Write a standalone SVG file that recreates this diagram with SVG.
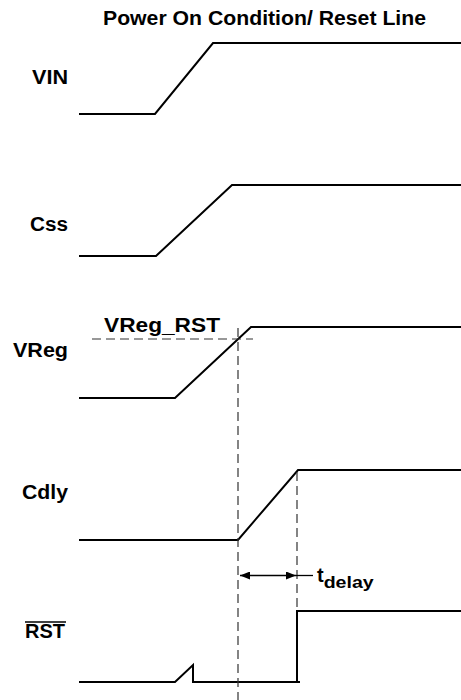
<svg xmlns="http://www.w3.org/2000/svg" width="461" height="700" viewBox="0 0 461 700">
<style>
.lbl{font-family:"Liberation Sans",Arial,sans-serif;font-weight:bold;font-size:20px;fill:#000}
.sig{fill:none;stroke:#000;stroke-width:2;stroke-linejoin:miter}
.dash{fill:none;stroke:#333;stroke-width:1.2;stroke-dasharray:9,5}
.arr{fill:none;stroke:#000;stroke-width:1.3}
</style>
<defs>
<marker id="ah" viewBox="0 0 10 8" refX="10" refY="4" markerWidth="10" markerHeight="8" markerUnits="userSpaceOnUse" orient="auto-start-reverse">
<path d="M0,0 L10,4 L0,8 z" fill="#000"/>
</marker>
</defs>
<rect width="461" height="700" fill="#fff"/>
<text id="title" class="lbl" x="103" y="25" font-size="19" textLength="323" lengthAdjust="spacingAndGlyphs">Power On Condition/ Reset Line</text>
<g id="vin">
<text class="lbl" x="32" y="84" textLength="36" lengthAdjust="spacingAndGlyphs">VIN</text>
<path class="sig" d="M79,114 H155 L213,43 H461"/>
</g>
<g id="css">
<text class="lbl" x="30" y="231" textLength="38" lengthAdjust="spacingAndGlyphs">Css</text>
<path class="sig" d="M79,256 H156 L232,185 H461"/>
</g>
<g id="vreg">
<text class="lbl" x="13" y="357" textLength="55" lengthAdjust="spacingAndGlyphs">VReg</text>
<path class="sig" d="M79,398 H175 L251,327 H461"/>
<text class="lbl" x="104" y="332" font-size="20.5" textLength="116" lengthAdjust="spacingAndGlyphs">VReg_RST</text>
</g>
<g id="cdly">
<text class="lbl" x="22" y="499" textLength="46" lengthAdjust="spacingAndGlyphs">Cdly</text>
<path class="sig" d="M79,540 H238 L298,470 H461"/>
</g>
<g id="rst">
<text class="lbl" x="25" y="638" textLength="40" lengthAdjust="spacingAndGlyphs">RST</text>
<line x1="25" y1="622" x2="66" y2="622" stroke="#000" stroke-width="1.5"/>
<path class="sig" d="M79,682 H175 L193,665 V682 H300 M297,683 V611 H461"/>
</g>
<g id="connectors">
<line class="dash" x1="92" y1="339" x2="253" y2="339"/>
<line class="dash" x1="238" y1="328" x2="238" y2="700"/>
<line class="dash" x1="297" y1="472" x2="297" y2="610"/>
<line class="arr" x1="240" y1="575.5" x2="296" y2="575.5" marker-start="url(#ah)" marker-end="url(#ah)"/>
<line class="arr" x1="296" y1="575.5" x2="313" y2="575.5"/>
</g>
<g id="tdelay">
<text class="lbl" x="317" y="582" font-size="22">t<tspan font-size="17" dy="6" textLength="50" lengthAdjust="spacingAndGlyphs">delay</tspan></text>
</g>
</svg>
